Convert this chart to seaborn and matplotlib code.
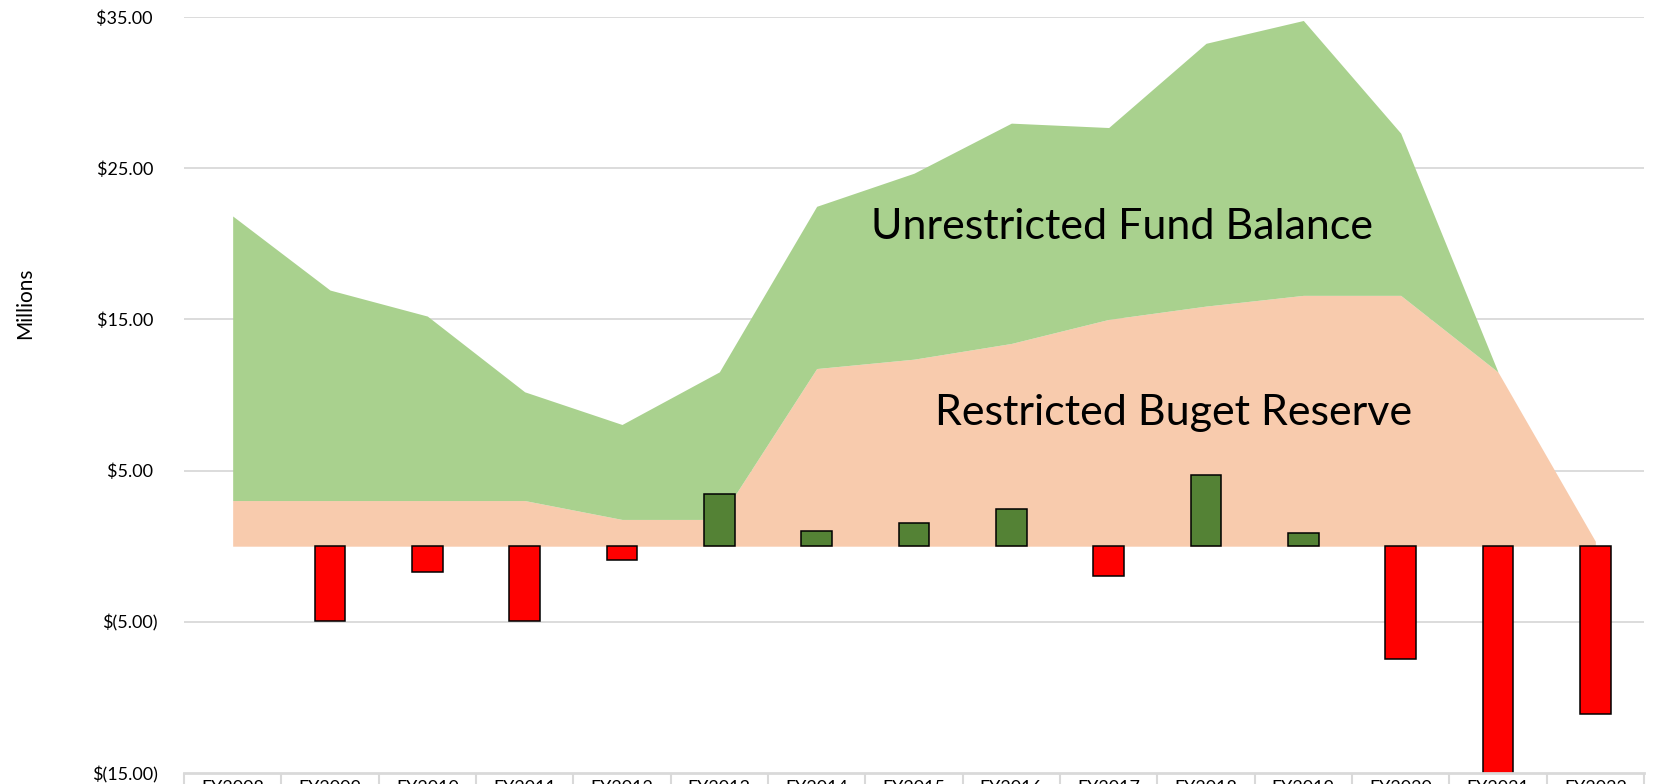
import numpy as np
import pandas as pd
import matplotlib
matplotlib.use("Agg")
import matplotlib.pyplot as plt
import seaborn as sns

# ---- data (millions of dollars) ----
years = ["FY2008", "FY2009", "FY2010", "FY2011", "FY2012", "FY2013", "FY2014", "FY2015",
         "FY2016", "FY2017", "FY2018", "FY2019", "FY2020", "FY2021", "FY2022"]
restricted_reserve = [3.02, 3.02, 3.02, 3.02, 1.77, 1.77, 11.75, 12.37,
                      13.41, 15.00, 15.88, 16.59, 16.59, 11.52, 0.33]
unrestricted_balance = [18.82, 13.92, 12.20, 7.19, 6.28, 9.76, 10.73, 12.30,
                        14.57, 12.69, 17.38, 18.18, 10.73, 0.00, 0.00]
annual_change = [0.0, -4.97, -1.72, -4.97, -0.93, 3.47, 0.99, 1.55,
                 2.43, -1.99, 4.72, 0.86, -7.45, -15.3, -11.09]
ytick_values = [-15, -5, 5, 15, 25, 35]

GREEN_AREA = "#A9D18E"
PEACH_AREA = "#F8CBAD"
GREEN_BAR = "#548235"
RED_BAR = "#FF0000"
GRID = "#D9D9D9"

sns.set_theme(style="white")
plt.rcParams["font.family"] = ["Lato", "DejaVu Sans"]

fig = plt.figure(figsize=(16.55, 7.84), dpi=100)
ax = fig.add_axes([184 / 1655, 1 - 773 / 784, (1644 - 184) / 1655, (773 - 17) / 784])

x = np.arange(len(years))

# gridlines
for v in ytick_values[1:]:
    ax.axhline(v, color=GRID, lw=1.3, zorder=0)

# stacked areas
ax.stackplot(x, restricted_reserve, unrestricted_balance,
             colors=[PEACH_AREA, GREEN_AREA], zorder=1, linewidth=0)

# bars
df = pd.DataFrame({"year": years, "change": annual_change})
bar_colors = [GREEN_BAR if v > 0 else RED_BAR for v in annual_change]
sns.barplot(data=df, x="year", y="change", hue="year", palette=bar_colors,
            legend=False, width=0.315, saturation=1, edgecolor="black",
            linewidth=1.1, ax=ax, zorder=2)
for p in ax.patches:
    if hasattr(p, "get_height") and abs(p.get_height()) < 1e-9:
        p.set_linewidth(0)

ax.set_xlim(-0.5, len(years) - 0.5)
ax.set_ylim(-15, 35)

# y tick labels in accounting style
def fmt(v):
    if v < 0:
        return f"$({abs(v):.2f})"
    return f"${v:.2f} "
ax.set_yticks(ytick_values)
ax.set_yticklabels([fmt(v) for v in ytick_values], fontsize=13, color="#000000")
ax.tick_params(axis="y", length=0, pad=19)

# x labels (table-like category axis)
ax.set_xticks(x)
ax.set_xticklabels(years, fontsize=13, color="#000000")
ax.tick_params(axis="x", length=0, pad=5)
ax.set_xlabel("")
ax.set_ylabel("")

for s in ["top", "right", "left"]:
    ax.spines[s].set_visible(False)
ax.spines["bottom"].set_color(GRID)
ax.spines["bottom"].set_linewidth(2)
ax.vlines(np.arange(len(years) + 1) - 0.5, -0.05, 0, transform=ax.get_xaxis_transform(),
          colors=GRID, lw=1.5, clip_on=False)

fig.text(25 / 1655, 1 - 303 / 784, "Millions", rotation=90, ha="center", va="center",
         fontsize=15, color="#000000")

ax.text(9.14, 21.1, "Unrestricted Fund Balance", ha="center", va="center",
        fontsize=31, color="#000000", zorder=3)
ax.text(9.67, 8.8, "Restricted Buget Reserve", ha="center", va="center",
        fontsize=31, color="#000000", zorder=3)

fig.savefig("out.png", dpi=100)
